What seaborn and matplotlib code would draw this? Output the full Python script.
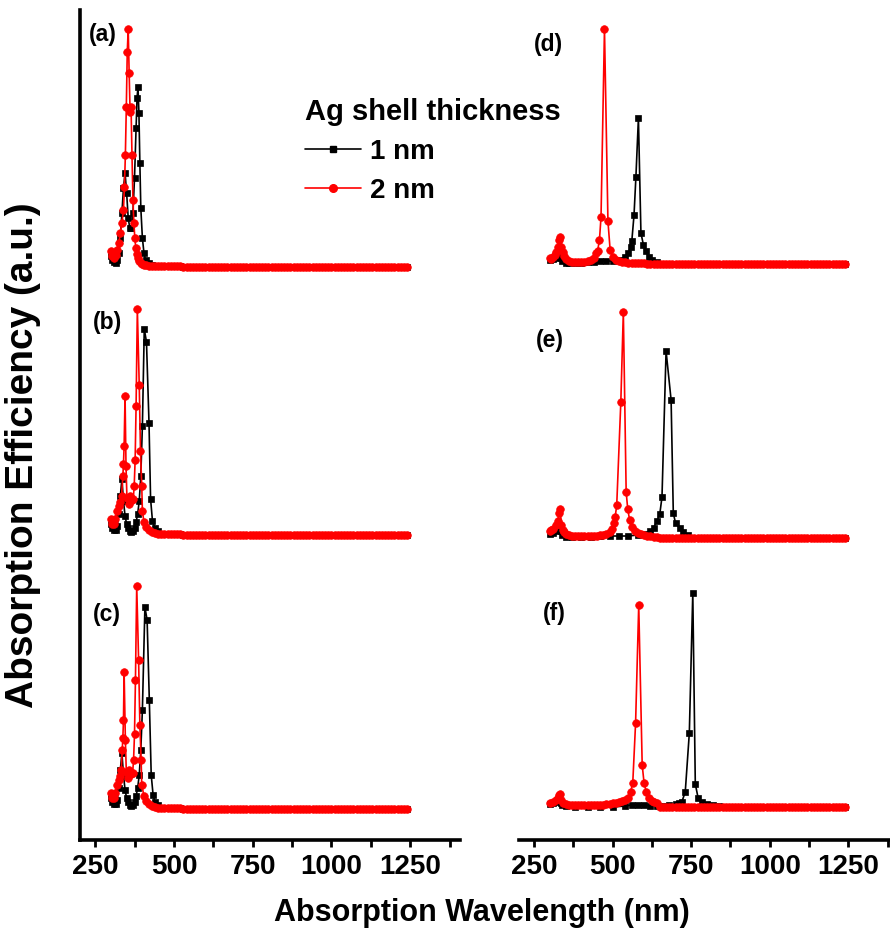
import matplotlib
matplotlib.use("Agg")
import matplotlib.pyplot as plt
from matplotlib.lines import Line2D
import seaborn as sns

# ---------------- data ----------------
PANEL_LABELS = ["(a)", "(b)", "(c)", "(d)", "(e)", "(f)"]
SERIES_LABELS = ["1 nm", "2 nm"]
LEGEND_TITLE = "Ag shell thickness"
X_TICKS = [250, 500, 750, 1000, 1250]
X_MINOR_TICKS = [375, 625, 875, 1125, 1375]

# shared flat tail of every spectrum (wavelength nm / efficiency a.u.)
TAIL_WL = [650, 660, 670, 680, 690, 700, 710, 720, 730, 740, 750, 760, 770, 780, 790,
           800, 810, 820, 830, 840, 850, 860, 870, 880, 890, 900, 910, 920, 930, 940,
           950, 960, 970, 980, 990, 1000, 1010, 1020, 1030, 1040, 1050, 1060, 1070, 1080, 1090,
           1100, 1110, 1120, 1130, 1140, 1150, 1160, 1170, 1180, 1190, 1200, 1210, 1220, 1230, 1240]
TAIL_EFF = [0.01, 0.01, 0.01, 0.01, 0.01, 0.01, 0.01, 0.01, 0.01, 0.01, 0.01, 0.01, 0.01, 0.01, 0.01,
            0.01, 0.01, 0.01, 0.01, 0.01, 0.01, 0.01, 0.01, 0.01, 0.01, 0.01, 0.01, 0.01, 0.01, 0.01,
            0.01, 0.01, 0.01, 0.01, 0.01, 0.01, 0.01, 0.01, 0.01, 0.01, 0.01, 0.01, 0.01, 0.01, 0.01,
            0.01, 0.01, 0.01, 0.01, 0.01, 0.01, 0.01, 0.01, 0.01, 0.01, 0.01, 0.01, 0.01, 0.01, 0.01]

LEFT_MID_WL = [460, 470, 480, 490, 500, 510, 520, 530, 540, 550, 560, 570, 580, 590, 600, 610, 620, 630, 640]
LEFT_MID_EFF = [0.02, 0.02, 0.02, 0.02, 0.02, 0.02, 0.02, 0.01, 0.01, 0.01, 0.01, 0.01, 0.01, 0.01,
                0.01, 0.01, 0.01, 0.01, 0.01]

# (a)
A_WL_1NM = [300, 305, 310, 315, 320, 325, 330, 335, 340, 345, 350, 355, 360, 365, 370, 375, 380,
            383, 386, 389, 392, 395, 400, 405, 410, 420, 430, 440, 450] + LEFT_MID_WL + TAIL_WL
A_EFF_1NM = [0.12, 0.08, 0.06, 0.05, 0.08, 0.15, 0.30, 0.55, 0.80, 0.95, 0.75, 0.50, 0.40, 0.40, 0.55,
             0.90, 1.40, 1.70, 1.81, 1.55, 1.05, 0.60, 0.30, 0.15, 0.08, 0.05, 0.03, 0.02, 0.02] + LEFT_MID_EFF + TAIL_EFF
A_WL_2NM = [300, 305, 310, 315, 320, 325, 330, 335, 340, 343, 346, 349, 352, 355, 358, 361, 364, 367,
            370, 373, 376, 379, 382, 385, 390, 395, 400, 405, 410, 420, 430, 440, 450] + LEFT_MID_WL + TAIL_WL
A_EFF_2NM = [0.17, 0.12, 0.10, 0.13, 0.18, 0.25, 0.35, 0.45, 0.58, 0.81, 1.13, 1.61, 2.16, 2.39, 1.95,
             1.56, 1.61, 1.13, 0.68, 0.45, 0.30, 0.20, 0.14, 0.10, 0.07, 0.05, 0.04, 0.03, 0.03, 0.02,
             0.02, 0.02, 0.02] + LEFT_MID_EFF + TAIL_EFF

# (b)
B_WL_1NM = [300, 305, 310, 315, 320, 325, 330, 335, 340, 345, 350, 355, 360, 365, 370, 375, 380, 385,
            390, 395, 400, 406, 413, 421, 426, 432, 440, 450] + LEFT_MID_WL + TAIL_WL
B_EFF_1NM = [0.12, 0.08, 0.06, 0.06, 0.10, 0.22, 0.40, 0.57, 0.35, 0.20, 0.12, 0.08, 0.05, 0.04, 0.05,
             0.08, 0.14, 0.22, 0.35, 0.60, 1.10, 2.07, 1.94, 1.13, 0.37, 0.15, 0.08, 0.05] + LEFT_MID_EFF + TAIL_EFF
B_WL_2NM = [300, 305, 310, 313, 320, 325, 330, 334, 338, 340, 342, 345, 348, 351, 356, 361, 366, 371,
            374, 377, 380, 384, 390, 394, 398, 400, 405, 410, 420, 430, 440, 450] + LEFT_MID_WL + TAIL_WL
B_EFF_2NM = [0.17, 0.12, 0.12, 0.17, 0.25, 0.30, 0.34, 0.40, 0.60, 0.72, 0.90, 1.40, 0.70, 0.38, 0.32,
             0.40, 0.36, 0.37, 0.50, 0.76, 1.30, 2.27, 1.51, 0.85, 0.50, 0.25, 0.14, 0.09, 0.06, 0.04,
             0.03, 0.02] + LEFT_MID_EFF + TAIL_EFF

# (c)
C_WL_1NM = [300, 305, 310, 315, 320, 325, 330, 335, 340, 345, 350, 355, 360, 365, 370, 375, 380, 385,
            390, 395, 400, 408, 415, 422, 428, 434, 440, 450] + LEFT_MID_WL + TAIL_WL
C_EFF_1NM = [0.12, 0.08, 0.06, 0.06, 0.10, 0.22, 0.40, 0.57, 0.35, 0.20, 0.12, 0.08, 0.05, 0.04, 0.05,
             0.08, 0.14, 0.22, 0.35, 0.60, 1.00, 2.03, 1.90, 1.10, 0.35, 0.15, 0.08, 0.05] + LEFT_MID_EFF + TAIL_EFF
C_WL_2NM = [300, 305, 310, 313, 320, 325, 330, 333, 336, 338, 340, 342, 346, 349, 354, 359, 364, 369,
            372, 375, 378, 382, 388, 392, 396, 398, 405, 410, 420, 430, 440, 450] + LEFT_MID_WL + TAIL_WL
C_EFF_2NM = [0.17, 0.12, 0.12, 0.17, 0.25, 0.30, 0.34, 0.40, 0.60, 0.72, 0.90, 1.38, 0.70, 0.38, 0.32,
             0.40, 0.36, 0.37, 0.50, 0.76, 1.30, 2.24, 1.50, 0.85, 0.50, 0.25, 0.14, 0.09, 0.06, 0.04,
             0.03, 0.02] + LEFT_MID_EFF + TAIL_EFF

# (d)
D_WL_1NM = [300, 305, 310, 315, 320, 325, 330, 335, 340, 350, 360, 380, 400, 420, 440, 460, 480, 500,
            520, 540, 550, 557, 561, 568, 574, 582, 590, 598, 606, 615, 625, 640] + TAIL_WL
D_EFF_1NM = [0.05, 0.06, 0.06, 0.07, 0.08, 0.10, 0.12, 0.07, 0.04, 0.02, 0.02, 0.02, 0.02, 0.03, 0.03,
             0.04, 0.04, 0.04, 0.05, 0.08, 0.12, 0.18, 0.24, 0.50, 0.88, 1.47, 0.32, 0.20, 0.14, 0.08,
             0.05, 0.03] + TAIL_EFF
D_WL_2NM = [300, 305, 310, 315, 320, 325, 330, 333, 337, 341, 345, 350, 360, 370, 380, 390, 400, 410,
            420, 430, 440, 447, 452, 458, 463, 474, 485, 492, 500, 510, 520, 530, 540, 550, 560, 570,
            580, 590, 600, 610, 620, 630, 640] + TAIL_WL
D_EFF_2NM = [0.07, 0.06, 0.08, 0.10, 0.13, 0.18, 0.25, 0.28, 0.18, 0.13, 0.09, 0.06, 0.04, 0.03, 0.03,
             0.03, 0.03, 0.03, 0.04, 0.05, 0.07, 0.12, 0.14, 0.25, 0.48, 2.36, 0.44, 0.15, 0.08, 0.05,
             0.04, 0.03, 0.03, 0.02, 0.02, 0.02, 0.02, 0.02, 0.02, 0.01, 0.01, 0.01, 0.01] + TAIL_EFF

# (e)
E_WL_1NM = [300, 310, 320, 330, 335, 340, 350, 370, 400, 430, 460, 490, 520, 550, 580, 600, 620, 630,
            641, 650, 657, 670, 686, 693, 700, 713, 725, 740] + TAIL_WL[10:]
E_EFF_1NM = [0.05, 0.06, 0.08, 0.12, 0.08, 0.04, 0.02, 0.02, 0.02, 0.02, 0.03, 0.03, 0.03, 0.03, 0.04,
             0.05, 0.08, 0.11, 0.18, 0.25, 0.42, 1.88, 1.39, 0.26, 0.16, 0.11, 0.07, 0.04] + TAIL_EFF[10:]
E_WL_2NM = [300, 305, 310, 320, 325, 330, 333, 337, 341, 345, 350, 360, 370, 380, 390, 400, 410, 420,
            430, 440, 450, 460, 470, 480, 490, 497, 503, 508, 513, 526, 534, 543, 548, 554, 560, 570,
            580, 590, 600, 610, 620, 630, 640] + TAIL_WL
E_EFF_2NM = [0.08, 0.09, 0.10, 0.14, 0.18, 0.26, 0.30, 0.14, 0.09, 0.07, 0.05, 0.04, 0.03, 0.03, 0.03,
             0.03, 0.03, 0.03, 0.03, 0.03, 0.03, 0.04, 0.04, 0.05, 0.07, 0.10, 0.16, 0.22, 0.34, 1.37,
             2.27, 0.47, 0.30, 0.19, 0.12, 0.08, 0.06, 0.05, 0.04, 0.03, 0.03, 0.02, 0.02] + TAIL_EFF

# (f)
F_WL_1NM = [300, 310, 320, 330, 335, 340, 350, 380, 420, 460, 500, 540, 560, 580, 600, 620, 640, 660,
            680, 700, 710, 720, 731, 744, 755, 763, 772, 785, 800, 820, 840] + TAIL_WL[20:]
F_EFF_1NM = [0.04, 0.05, 0.06, 0.07, 0.05, 0.03, 0.02, 0.01, 0.01, 0.01, 0.01, 0.02, 0.03, 0.03, 0.03,
             0.02, 0.02, 0.02, 0.03, 0.04, 0.05, 0.06, 0.16, 0.75, 2.15, 0.24, 0.10, 0.06, 0.04, 0.03,
             0.02] + TAIL_EFF[20:]
F_WL_2NM = [300, 310, 320, 325, 330, 333, 337, 341, 350, 360, 370, 380, 390, 400, 410, 420, 430, 440,
            450, 460, 470, 480, 490, 500, 510, 520, 530, 540, 550, 557, 564, 573, 583, 594, 600, 607,
            615, 625, 630, 640] + TAIL_WL
F_EFF_2NM = [0.05, 0.06, 0.08, 0.10, 0.13, 0.14, 0.08, 0.05, 0.04, 0.03, 0.03, 0.03, 0.03, 0.03, 0.03,
             0.03, 0.03, 0.03, 0.03, 0.03, 0.03, 0.04, 0.04, 0.05, 0.05, 0.06, 0.07, 0.08, 0.10, 0.16,
             0.25, 0.85, 2.03, 0.43, 0.25, 0.16, 0.10, 0.07, 0.06, 0.05] + TAIL_EFF

PANELS = [
    (A_WL_1NM, A_EFF_1NM, A_WL_2NM, A_EFF_2NM),
    (B_WL_1NM, B_EFF_1NM, B_WL_2NM, B_EFF_2NM),
    (C_WL_1NM, C_EFF_1NM, C_WL_2NM, C_EFF_2NM),
    (D_WL_1NM, D_EFF_1NM, D_WL_2NM, D_EFF_2NM),
    (E_WL_1NM, E_EFF_1NM, E_WL_2NM, E_EFF_2NM),
    (F_WL_1NM, F_EFF_1NM, F_WL_2NM, F_EFF_2NM),
]

# ---------------- style ----------------
sns.set_style("white")
plt.rcParams["font.family"] = ["Liberation Sans", "DejaVu Sans"]
plt.rcParams["font.weight"] = "bold"
plt.rcParams["text.color"] = "black"
plt.rcParams["xtick.color"] = "black"
plt.rcParams["axes.labelcolor"] = "black"

W, H = 890, 930
fig = plt.figure(figsize=(W / 100, H / 100), dpi=100)

def fx(px):
    return px / W

def fy(py):
    return 1 - py / H

XLIM = (202, 1408)
COL_LEFT_PX = [80, 519]
COL_WIDTH_PX = [380, 379]
SPINE_W = 2.6
TICK_FS = 20

# background axes carrying the visible spines / ticks for each column
for ci in range(2):
    bg = fig.add_axes([fx(COL_LEFT_PX[ci]), fy(840), fx(COL_WIDTH_PX[ci]), (840 - 10) / H])
    bg.set_xlim(*XLIM)
    bg.set_ylim(0, 1)
    bg.set_facecolor("none")
    for s in ["top", "right"]:
        bg.spines[s].set_visible(False)
    bg.spines["left"].set_visible(ci == 0)
    for s in ["left", "bottom"]:
        bg.spines[s].set_linewidth(SPINE_W)
        bg.spines[s].set_color("black")
    bg.set_yticks([])
    bg.set_xticks(X_TICKS)
    bg.set_xticks(X_MINOR_TICKS, minor=True)
    bg.set_xticklabels([str(t) for t in X_TICKS], fontsize=TICK_FS, fontweight="bold", color="black")
    bg.tick_params(axis="x", which="both", direction="out", length=5, width=2.0,
                   color="black", pad=5, bottom=True)
    bg.zorder = 0

# panel axes (no spines) with the spectra
BASELINES_PX = [268, 536, 810, 265, 539, 808]
YLIM = (-0.25, 2.5)
PANEL_H_PX = 275
LABEL_POS_PX = [(89, 34), (93, 323), (93, 615), (534, 45), (536, 340), (543, 613)]

for pi, (wl1, e1, wl2, e2) in enumerate(PANELS):
    ci = 0 if pi < 3 else 1
    bottom_px = BASELINES_PX[pi] + 25
    ax = fig.add_axes([fx(COL_LEFT_PX[ci]), fy(bottom_px), fx(COL_WIDTH_PX[ci]), PANEL_H_PX / H])
    ax.set_xlim(*XLIM)
    ax.set_ylim(*YLIM)
    sns.lineplot(x=wl1, y=e1, ax=ax, color="black", marker="s", markersize=5,
                 markeredgecolor="black", markeredgewidth=0.5, linewidth=1.2,
                 sort=False, estimator=None, clip_on=False)
    sns.lineplot(x=wl2, y=e2, ax=ax, color="#ff0000", marker="o", markersize=5.5,
                 markeredgecolor="#ff0000", markeredgewidth=0.5, linewidth=1.2,
                 sort=False, estimator=None, clip_on=False)
    ax.set_axis_off()
    ax.zorder = 1
    lx, ly = LABEL_POS_PX[pi]
    fig.text(fx(lx), fy(ly), PANEL_LABELS[pi], ha="left", va="center",
             fontsize=16.5, fontweight="bold", color="black")

# axis titles
fig.text(fx(482), fy(913), "Absorption Wavelength (nm)", ha="center", va="center",
         fontsize=22, fontweight="bold", color="black")
fig.text(fx(23), fy(455), "Absorption Efficiency (a.u.)", ha="center", va="center",
         rotation=90, fontsize=28, fontweight="bold", color="black")

# legend
handles = [
    Line2D([], [], color="black", marker="s", markersize=5, linewidth=1.2),
    Line2D([], [], color="#ff0000", marker="o", markersize=5.5, linewidth=1.2),
]
leg = fig.legend(handles, SERIES_LABELS, title=LEGEND_TITLE, loc="upper left",
                 bbox_to_anchor=(fx(305), fy(98)), frameon=False,
                 prop={"weight": "bold", "size": 20},
                 title_fontproperties={"weight": "bold", "size": 21},
                 handlelength=2.0, handletextpad=0.35, labelspacing=0.47,
                 borderpad=0, borderaxespad=0, alignment="left")
for t in leg.get_texts():
    t.set_color("black")
leg.get_title().set_color("black")

fig.savefig("out.png", dpi=100)
